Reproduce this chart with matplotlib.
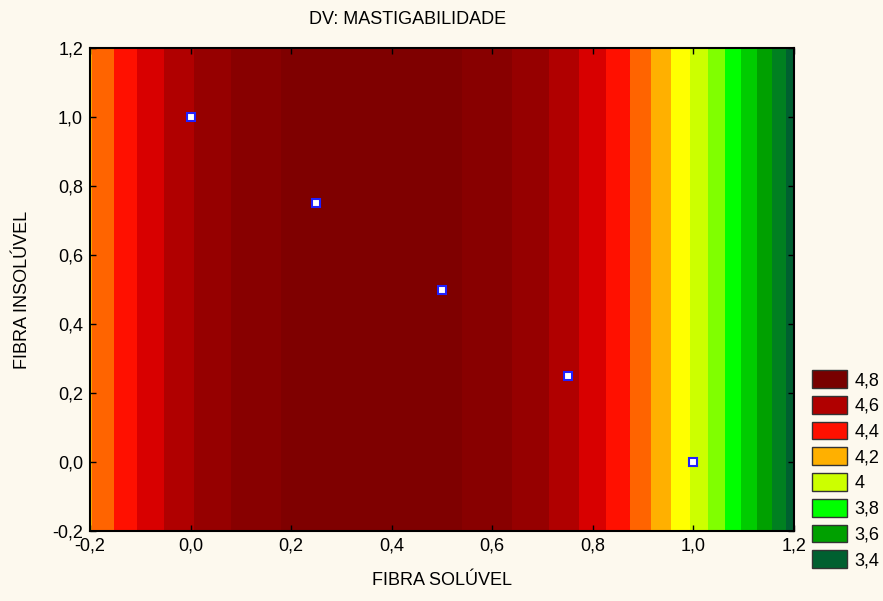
import numpy as np
import matplotlib.pyplot as plt
from matplotlib.patches import Patch
from matplotlib.ticker import FuncFormatter

# pontos do planejamento (mistura)
fibra_soluvel = [0.0, 0.25, 0.5, 0.75, 1.0]
fibra_insoluvel = [1.0, 0.75, 0.5, 0.25, 0.0]

coef = [-2.165, 1.559, 4.689]  # x², x, constante

niveis = [3.4, 3.5, 3.6, 3.7, 3.8, 3.9, 4.0, 4.1, 4.2, 4.3, 4.4, 4.5, 4.6, 4.7, 4.8, 4.9, 5.0]
cores = ['#006030', '#008020', '#00a000', '#00cc00', '#00ff00', '#80ff00', '#ccff00', '#ffff00',
         '#ffb000', '#ff6400', '#ff1000', '#d80000', '#b00000', '#960000', '#880000', '#7f0000']

legenda_rotulos = ['4,8', '4,6', '4,4', '4,2', '4', '3,8', '3,6', '3,4']
legenda_cores = ['#780000', '#b00000', '#ff1000', '#ffb000', '#ccff00', '#00ff00', '#00a000', '#006030']

plt.rcParams['font.family'] = ['Liberation Sans', 'DejaVu Sans']
fundo = '#fdf9ee'

fig = plt.figure(figsize=(8.83, 6.01), dpi=100, facecolor=fundo)
ax = fig.add_axes([90 / 883, 1 - 531 / 601, 704 / 883, 483 / 601])

xs = np.linspace(-0.2, 1.2, 600)
ys = np.array([-0.2, 1.2])
X, Y = np.meshgrid(xs, ys)
Z = np.polyval(coef, X)
ax.contourf(X, Y, Z, levels=niveis, colors=cores)

ax.plot(fibra_soluvel, fibra_insoluvel, 's', color='white', mec='#2020ff', mew=1.5, ms=5.5, ls='none')

ax.set_xlim(-0.2, 1.2)
ax.set_ylim(-0.2, 1.2)
ticks = [-0.2, 0.0, 0.2, 0.4, 0.6, 0.8, 1.0, 1.2]
ax.set_xticks(ticks)
ax.set_yticks(ticks)
fmt = FuncFormatter(lambda v, p: f"{round(v, 1) + 0:.1f}".replace('.', ','))
ax.xaxis.set_major_formatter(fmt)
ax.yaxis.set_major_formatter(fmt)
ax.tick_params(direction='in', top=True, right=True, length=4, width=1, labelsize=13, pad=5)
for s in ax.spines.values():
    s.set_linewidth(1.5)

ax.set_xlabel('FIBRA SOLÚVEL', fontsize=13)
ax.set_ylabel('FIBRA INSOLÚVEL', fontsize=13)
ax.xaxis.set_label_coords(0.5, -0.085)
ax.yaxis.set_label_coords(-0.084, 0.5)

fig.text(408 / 883, 1 - 19 / 601, 'DV: MASTIGABILIDADE', fontsize=13, ha='center', va='center')

handles = [Patch(facecolor=c, edgecolor='#333333', linewidth=1) for c in legenda_cores]
fig.legend(handles, legenda_rotulos, loc='upper left', bbox_to_anchor=(812 / 883, 1 - 370 / 601),
           frameon=False, fontsize=13, handlelength=1.95, handleheight=1.15, labelspacing=0.37,
           handletextpad=0.4, borderaxespad=0, borderpad=0)

fig.savefig('out.png', dpi=100, facecolor=fundo)
